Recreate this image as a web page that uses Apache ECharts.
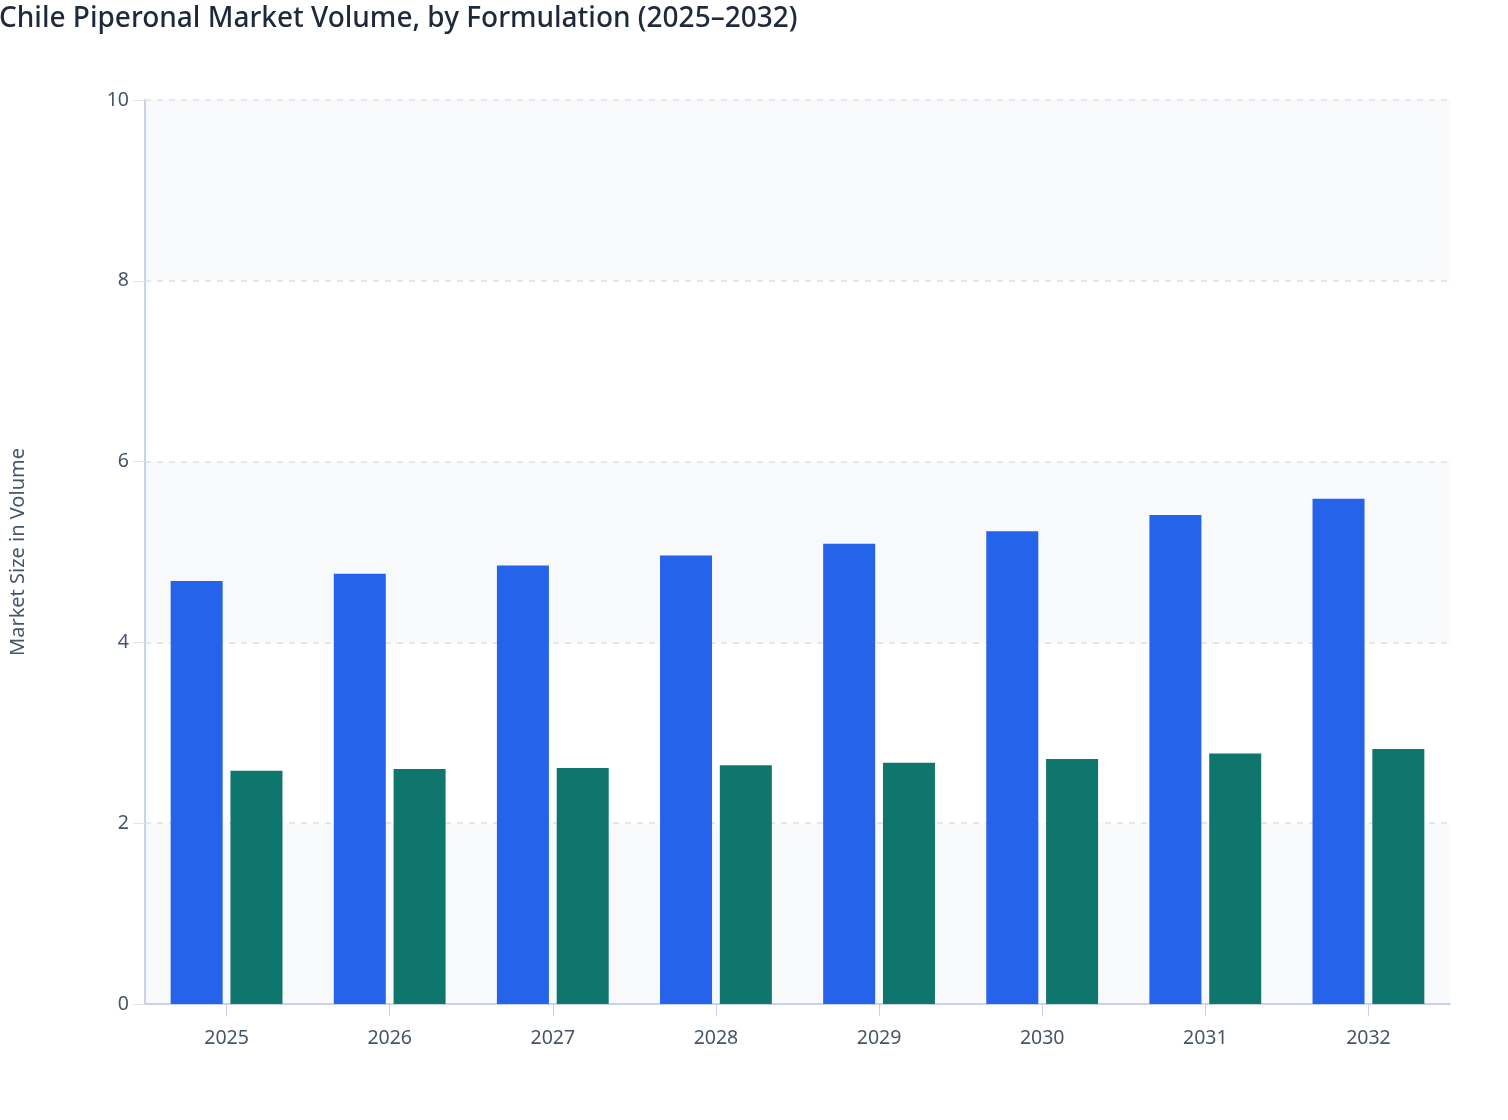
<!DOCTYPE html>
<html>
<head>
<meta charset="utf-8">
<script src="https://cdn.jsdelivr.net/npm/echarts@6/dist/echarts.min.js"></script>
<style>
html,body{margin:0;padding:0;background:#ffffff;}
#chart{width:1508px;height:1120px;}
</style>
</head>
<body>
<div id="chart"></div>
<script>
const titleText = 'Chile Piperonal Market Volume, by Formulation (2025–2032)';
const yAxisName = 'Market Size in Volume';
const years = ['2025','2026','2027','2028','2029','2030','2031','2032'];
const seriesANames = 'Formulation A';
const seriesBNames = 'Formulation B';
const seriesA = [4.68, 4.76, 4.85, 4.96, 5.09, 5.23, 5.41, 5.59];
const seriesB = [2.58, 2.60, 2.61, 2.64, 2.67, 2.71, 2.77, 2.82];
const yTicks = [0, 2, 4, 6, 8, 10];

const chart = echarts.init(document.getElementById('chart'));
const font = '"Noto Sans", "Open Sans", sans-serif';
chart.setOption({
  animation: false,
  backgroundColor: '#ffffff',
  textStyle: { fontFamily: font },
  title: {
    text: titleText,
    left: -6,
    top: 0,
    textStyle: { fontFamily: font, fontSize: 28, fontWeight: 500, color: '#1e293b' }
  },
  legend: { show: false },
  grid: { left: 143, right: 58, top: 100, bottom: 116, containLabel: false },
  xAxis: {
    type: 'category',
    data: years,
    axisLine: { lineStyle: { color: '#c8d2ec', width: 2 } },
    axisTick: { show: true, alignWithLabel: true, length: 12, lineStyle: { color: '#c8d2ec', width: 1 } },
    axisLabel: { color: '#475569', fontSize: 19.5, margin: 24, fontFamily: font },
    splitLine: { show: false }
  },
  yAxis: {
    type: 'value',
    min: yTicks[0],
    max: yTicks[yTicks.length - 1],
    interval: 2,
    name: yAxisName,
    nameLocation: 'middle',
    nameGap: 117,
    nameTextStyle: { color: '#475569', fontSize: 20, fontFamily: font },
    axisLine: { show: true, lineStyle: { color: '#c8d2ec', width: 2 } },
    axisTick: { show: true, length: 12, lineStyle: { color: '#dfe4ee', width: 1 } },
    axisLabel: { color: '#475569', fontSize: 19.5, margin: 16, fontFamily: font },
    splitLine: { show: true, lineStyle: { color: '#e5e7eb', type: [6, 6], width: 2 } },
    splitArea: { show: true, areaStyle: { color: ['#f8f9fb', '#ffffff'] } }
  },
  series: [
    {
      name: seriesANames,
      type: 'bar',
      data: seriesA,
      barWidth: 52,
      barGap: '15%',
      itemStyle: { color: '#2563eb' }
    },
    {
      name: seriesBNames,
      type: 'bar',
      data: seriesB,
      barWidth: 52,
      barGap: '15%',
      itemStyle: { color: '#0f766e' }
    }
  ]
});
</script>
</body>
</html>
